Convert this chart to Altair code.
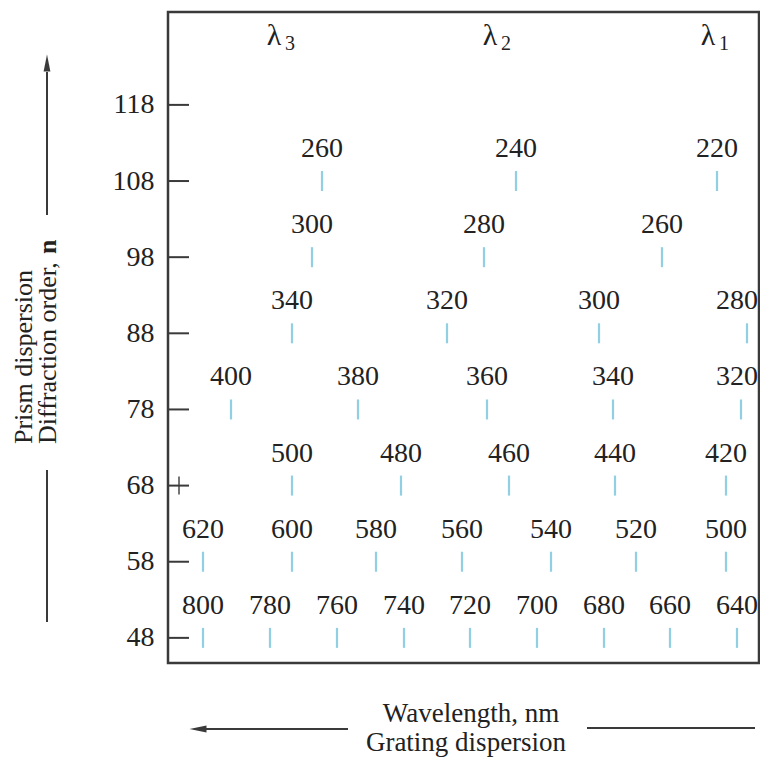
import altair as alt
import pandas as pd

# ---- data ----
orders = [48] * 9 + [58] * 7 + [68] * 5 + [78] * 5 + [88] * 4 + [98] * 3 + [108] * 3
wavelengths = [800, 780, 760, 740, 720, 700, 680, 660, 640,
               620, 600, 580, 560, 540, 520, 500,
               500, 480, 460, 440, 420,
               400, 380, 360, 340, 320,
               340, 320, 300, 280,
               300, 280, 260,
               260, 240, 220]
positions = [3.5, 10.2, 16.9, 23.6, 30.2, 36.9, 43.6, 50.2, 56.9,
             3.5, 12.4, 20.8, 29.4, 38.3, 46.8, 55.8,
             12.4, 23.3, 34.1, 44.7, 55.8,
             6.3, 19.0, 31.9, 44.5, 57.3,
             12.4, 27.9, 43.1, 57.9,
             14.4, 31.6, 49.4,
             15.4, 34.8, 54.9]
y_ticks = [48, 58, 68, 78, 88, 98, 108, 118]
cross_order = [68]
lambda_subs = ["3", "2", "1"]
lambda_pos = [10.6, 32.2, 54.0]
lambda_order = [127.0, 127.0, 127.0]

FONT = "Liberation Serif"
INK = "#222222"
LINE = "#3a3a3a"
CYAN = "#62bcd6"
X_MAX = 59.1
LABEL_MAX = 56.9  # labels are kept inside the frame

df = pd.DataFrame({"order": orders, "wl": [str(w) for w in wavelengths], "pos": positions})
df_ticks = pd.DataFrame({"order": y_ticks})
df_cross = pd.DataFrame({"order": cross_order})
df_lam = pd.DataFrame({"pos": lambda_pos, "order": lambda_order, "lam": ["λ"] * 3, "sub": lambda_subs})

xs = alt.Scale(domain=[0, X_MAX], nice=False, zero=False)
ys = alt.Scale(domain=[44.7, 130.2], nice=False, zero=False)
yaxis = alt.Axis(values=y_ticks, ticks=False, domain=False, grid=False, title=None,
                 labelFont=FONT, labelFontSize=28, labelColor=INK, labelPadding=14)
X = alt.X("pos:Q", scale=xs, axis=None)
Y = alt.Y("order:Q", scale=ys, axis=yaxis)

base_ticks = alt.Chart(df_ticks).mark_rule(color=LINE, strokeWidth=2).encode(
    x=alt.value(0), x2=alt.value(21), y=Y)

cross = alt.Chart(df_cross).mark_tick(orient="vertical", color=LINE, size=18, thickness=2).encode(
    x=alt.value(11), y=Y)

marks = alt.Chart(df).mark_tick(orient="vertical", color=CYAN, size=20, thickness=2.2).encode(x=X, y=Y)
labels = alt.Chart(df).transform_calculate(
    lpos=f"min(datum.pos, {LABEL_MAX})"
).mark_text(font=FONT, fontSize=28, color=INK, dy=-32, baseline="middle").encode(
    x=alt.X("lpos:Q", scale=xs, axis=None), y=Y, text="wl:N")

lam = alt.Chart(df_lam).mark_text(font=FONT, fontSize=30, color=INK, baseline="middle").encode(
    x=X, y=Y, text="lam:N")
lam_sub = alt.Chart(df_lam).mark_text(font=FONT, fontSize=20, color=INK, baseline="middle", dx=16, dy=8).encode(
    x=X, y=Y, text="sub:N")

one = pd.DataFrame({"k": [0]})


def txt(s, x, y, **kw):
    return alt.Chart(pd.DataFrame({"t": [s]})).mark_text(font=FONT, color=INK, **kw).encode(
        x=alt.value(x), y=alt.value(y), text="t:N")


def hline(x1, x2, y):
    return alt.Chart(one).mark_rule(color=LINE, strokeWidth=2).encode(
        x=alt.value(x1), x2=alt.value(x2), y=alt.value(y))


def vline(x, y1, y2):
    return alt.Chart(one).mark_rule(color=LINE, strokeWidth=2).encode(
        x=alt.value(x), y=alt.value(y1), y2=alt.value(y2))


def head(x, y, path):
    return alt.Chart(one).mark_point(shape=path, filled=True, color=LINE, size=289, opacity=1, strokeWidth=0).encode(
        x=alt.value(x), y=alt.value(y))


x_title1 = txt("Wavelength, nm", 303, 710, fontSize=27, align="center", baseline="alphabetic")
x_title2 = txt("Grating dispersion", 298, 739, fontSize=27, align="center", baseline="alphabetic")
y_title1 = txt("Prism dispersion", -144, 432, fontSize=26, align="left", baseline="middle", angle=270)
y_title2 = txt("Diffraction order, ", -120, 432, fontSize=26, align="left", baseline="middle", angle=270)
y_title3 = txt("n", -120, 242, fontSize=26, align="left", baseline="middle", angle=270, fontWeight="bold")

arrows = [
    hline(31, 180, 717), head(30, 717, "M -1 0 L 1 -0.4 L 1 0.4 Z"),
    hline(419, 587, 716),
    vline(-121, 60, 203), head(-121, 51, "M 0 -1 L -0.4 1 L 0.4 1 Z"),
    vline(-121, 458, 610),
]

chart = alt.layer(
    base_ticks, cross, marks, labels, lam, lam_sub,
    x_title1, x_title2, y_title1, y_title2, y_title3, *arrows
).properties(
    width=591, height=651,
    padding={"left": 160, "top": 4, "right": 1, "bottom": 100},
    autosize="none",
    background="white",
).configure_view(stroke=LINE, strokeWidth=2.5)

chart.save("out.html", embed_options={"renderer": "svg", "actions": False})
